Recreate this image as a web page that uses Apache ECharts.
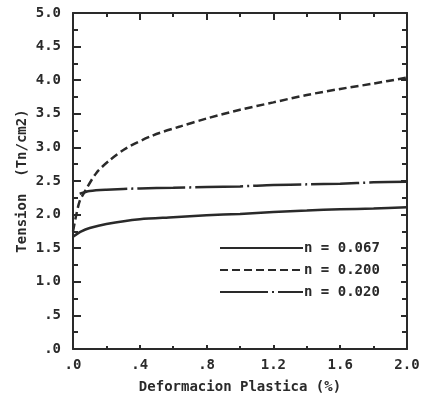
<!DOCTYPE html>
<html>
<head>
<meta charset="utf-8">
<script src="https://cdn.jsdelivr.net/npm/echarts@6/dist/echarts.min.js"></script>
<style>
  html, body { margin: 0; padding: 0; background: #fff; }
  #chart { width: 426px; height: 403px; }
</style>
</head>
<body>
<div id="chart"></div>
<script>
// datos
var seriesNames = ['n = 0.067', 'n = 0.200', 'n = 0.020'];

var solidX = [0, 0.05, 0.1, 0.2, 0.4, 0.6, 0.8, 1.0, 1.2, 1.4, 1.6, 1.8, 2.0];
var solidY = [1.67, 1.75, 1.80, 1.86, 1.93, 1.96, 1.99, 2.01, 2.04, 2.06, 2.08, 2.09, 2.11];

var dashX = [0, 0.02, 0.04, 0.07, 0.14, 0.22, 0.32, 0.48, 0.64, 0.8, 1.0, 1.2, 1.4, 1.6, 1.8, 2.0];
var dashY = [1.75, 2.0, 2.2, 2.34, 2.62, 2.81, 2.99, 3.18, 3.31, 3.43, 3.56, 3.67, 3.78, 3.87, 3.95, 4.04];

var dotX = [0.04, 0.1, 0.2, 0.4, 0.6, 0.8, 1.0, 1.2, 1.4, 1.6, 1.8, 2.0];
var dotY = [2.31, 2.35, 2.37, 2.39, 2.40, 2.41, 2.42, 2.44, 2.45, 2.46, 2.48, 2.49];

var xTicks = ['.0', '.4', '.8', '1.2', '1.6', '2.0'];

function pairs(xs, ys) {
    return xs.map(function (x, i) { return [x, ys[i]]; });
}

var ink = '#2a2a2a';
var font = 'DejaVu Sans Mono';

function fmt(v) {
    var s = v.toFixed(1);
    return s.charAt(0) === '0' ? s.slice(1) : s;
}

var chart = echarts.init(document.getElementById('chart'));

var axisBase = {
    type: 'value',
    splitLine: { show: false },
    axisLine: { show: true, onZero: false, lineStyle: { color: ink, width: 2 } }
};

var option = {
    backgroundColor: '#fff',
    animation: false,
    grid: { left: 73, right: 19, top: 13, bottom: 54 },
    legend: {
        data: seriesNames,
        orient: 'vertical',
        left: 214,
        top: 236,
        itemWidth: 83,
        itemHeight: 14,
        itemGap: 8,
        itemStyle: { opacity: 0 },
        textStyle: { color: ink, fontFamily: font, fontWeight: 'bold', fontSize: 14, padding: [0, 0, 0, -4] }
    },
    xAxis: [
        Object.assign({}, axisBase, {
            position: 'bottom',
            min: 0, max: 2, interval: 0.4,
            name: 'Deformacion Plastica (%)',
            nameLocation: 'middle',
            nameGap: 31,
            nameTextStyle: { color: ink, fontFamily: font, fontWeight: 'bold', fontSize: 14 },
            axisTick: { inside: true, length: 4, lineStyle: { color: ink, width: 2 } },
            minorTick: { show: true, splitNumber: 2, length: 3, lineStyle: { color: ink, width: 2 } },
            axisLabel: {
                color: ink, fontFamily: font, fontWeight: 'bold', fontSize: 14, margin: 9,
                formatter: function (v) { return xTicks[Math.round(v / 0.4)]; }
            }
        }),
        Object.assign({}, axisBase, {
            position: 'top',
            min: 0, max: 2, interval: 0.4,
            axisTick: { inside: true, length: 7, lineStyle: { color: ink, width: 2 } },
            minorTick: { show: true, splitNumber: 2, length: 4, lineStyle: { color: ink, width: 2 } },
            axisLabel: { show: false }
        })
    ],
    yAxis: [
        Object.assign({}, axisBase, {
            position: 'left',
            min: 0, max: 5, interval: 0.5,
            name: 'Tension  (Tn/cm2)',
            nameLocation: 'middle',
            nameRotate: 90,
            nameGap: 44,
            nameMoveOverlap: false,
            nameTextStyle: { color: ink, fontFamily: font, fontWeight: 'bold', fontSize: 14 },
            axisTick: { inside: true, length: 8, lineStyle: { color: ink, width: 2 } },
            minorTick: { show: true, splitNumber: 2, length: 5, lineStyle: { color: ink, width: 2 } },
            axisLabel: { color: ink, fontFamily: font, fontWeight: 'bold', fontSize: 14, margin: 12, formatter: fmt }
        }),
        Object.assign({}, axisBase, {
            position: 'right',
            min: 0, max: 5, interval: 0.5,
            axisTick: { inside: true, length: 6, lineStyle: { color: ink, width: 2 } },
            minorTick: { show: true, splitNumber: 2, length: 5, lineStyle: { color: ink, width: 2 } },
            axisLabel: { show: false }
        })
    ],
    series: [
        {
            name: seriesNames[0], type: 'line', smooth: 0.3, showSymbol: false, symbol: 'none',
            lineStyle: { color: ink, width: 2.5, type: 'solid' },
            itemStyle: { color: ink },
            data: pairs(solidX, solidY)
        },
        {
            name: seriesNames[1], type: 'line', smooth: 0.3, showSymbol: false, symbol: 'none',
            lineStyle: { color: ink, width: 2.5, type: [8, 4] },
            itemStyle: { color: ink },
            data: pairs(dashX, dashY)
        },
        {
            name: seriesNames[2], type: 'line', smooth: 0.3, showSymbol: false, symbol: 'none',
            lineStyle: { color: ink, width: 2.5, type: [48, 4, 2, 4] },
            itemStyle: { color: ink },
            data: pairs(dotX, dotY)
        }
    ]
};

chart.setOption(option);
</script>
</body>
</html>
